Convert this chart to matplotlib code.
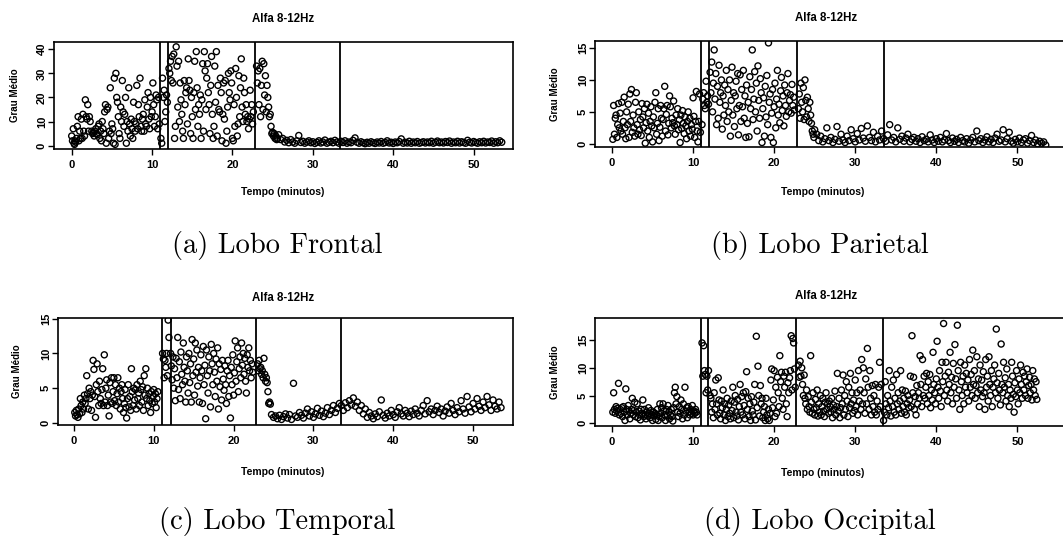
import matplotlib
matplotlib.use("Agg")
import matplotlib.pyplot as plt
import numpy as np

# ---------------- data ----------------
frontal_pts = [
 (0.0,4),(0.1,2),(0.2,7),(0.3,1),(0.35,0.5),(0.4,2),(0.5,1.5),(0.6,3),(0.7,8),(0.8,12),(0.9,2),(1.0,6),(1.1,3),(1.2,11),(1.3,3),
 (1.4,13),(1.5,6),(1.6,4),(1.7,19),(1.8,12),(1.9,11),(2.0,17),(2.1,6),(2.2,12),(2.3,10),(2.5,6),(2.6,5),(2.7,5.5),(2.8,4),(2.9,6),(3.0,7),(3.1,5),(3.2,4.5),
 (3.3,8),(3.4,9),(3.5,3),(3.6,6),(3.7,2),(3.8,10),(3.9,7),(4.0,5),(4.1,14),(4.2,17),(4.3,1),(4.4,15),(4.5,16),(4.6,3),(4.7,6),(4.8,24),(4.9,5),(5.0,9),(5.1,7),(5.2,1),(5.3,28),
 (5.4,0.5),(5.5,30),(5.6,20),(5.7,18),(5.8,12),(5.9,5),(6.0,3),(6.1,16),(6.2,10),(6.3,27),(6.4,14),(6.5,8),(6.6,13),(6.7,20),(6.8,1),(6.9,10),(7.0,6),(7.1,24),(7.2,9),(7.3,4),(7.4,11),(7.5,7),(7.6,3),(7.7,18),
 (7.8,10),(7.9,6),(8.0,9),(8.1,25),(8.2,7),(8.3,17),(8.4,12),(8.5,28),(8.6,8),(8.7,6),(8.8,11),(8.9,13),(9.0,6),(9.1,19),(9.2,9),(9.3,8),(9.4,16),(9.5,22),(9.6,11),(9.7,7),(9.8,20),(9.9,12),(10.0,14),(10.1,26),(10.2,17),(10.3,8),(10.4,12),(10.5,21),(10.6,19),(10.7,7),(10.8,20),(10.9,9),
 (11.1,3),(11.2,1),(11.3,28),(11.4,20),(11.5,23),(11.6,10),(11.7,14),(11.8,21),(11.9,18),
 (12.1,32),(12.2,30),(12.3,35),(12.4,27),(12.5,37),(12.6,26),(12.7,38),(12.8,3),(12.9,8),(13.0,41),(13.1,33),(13.2,16),(13.3,35),(13.4,10),(13.5,26),(13.6,19),(13.7,13),(13.8,6),(13.9,3),(14.0,27),
 (14.1,17),(14.2,22),(14.3,24),(14.4,9),(14.5,36),(14.6,27),(14.7,23),(14.8,5),(14.9,20),(15.0,12),(15.1,3),(15.2,22),(15.3,35),(15.4,15),(15.5,39),(15.6,24),(15.7,8),(15.8,17),(15.9,13),(16.0,21),
 (16.1,3),(16.2,19),(16.3,34),(16.4,6),(16.5,39),(16.6,31),(16.7,15),(16.8,28),(16.9,34),(17.0,22),(17.1,17),(17.2,5),(17.3,25),(17.4,37),(17.5,13),(17.6,3),(17.7,8),(17.8,33),(17.9,18),(18.0,39),
 (18.1,4),(18.2,25),(18.3,15),(18.4,14),(18.5,28),(18.6,22),(18.7,2),(18.8,13),(18.9,26),(19.0,11),(19.1,27),(19.2,1),(19.3,6),(19.4,16),(19.5,30),(19.6,22),(19.7,19),(19.8,31),(19.9,26),(20.0,3),
 (20.1,2),(20.2,17),(20.3,8),(20.4,32),(20.5,20),(20.6,4),(20.7,9),(20.8,29),(20.9,12),(21.0,24),(21.1,36),(21.2,16),(21.3,10),(21.4,28),(21.5,22),(21.6,13),(21.7,17),(21.8,10),(21.9,12),(22.0,7),
 (22.1,11),(22.2,23),(22.3,12),(22.4,17),(22.5,9),(22.6,14),
 (23.0,33),(23.1,26),(23.2,31),(23.3,17),(23.4,32),(23.5,12),(23.6,25),(23.7,35),(23.8,15),(23.9,34),(24.0,21),(24.1,29),(24.2,14),(24.3,25),(24.4,20),(24.5,16),(24.6,12),(24.7,13),(24.8,8),(24.9,5),
 (25.0,5.5),(25.1,4),(25.2,5),(25.3,3),(25.4,4),(25.5,2.5),(25.6,3),
 (25.75,4.5),(26.0,2.5),(26.25,3),(26.5,1.5),(26.75,2.2),(27.0,1.2),(27.25,2.5),(27.5,1.5),(27.75,1.0),(28.0,2.0),(28.25,4.2),(28.5,1.3),(28.75,1.8),(29.0,1.0),(29.25,1.5),(29.5,2.0),(29.75,1.2),
 (30.0,1.6),(30.25,0.9),(30.5,1.4),(30.75,2.0),(31.0,1.1),(31.25,1.5),(31.5,2.3),(31.75,1.0),(32.0,1.4),(32.25,1.8),(32.5,1.2),(32.75,2.2),(33.0,1.5),(33.25,1.0),(33.5,1.8),(33.75,1.3),
 (34.0,2.0),(34.25,1.0),(34.5,1.5),(34.75,1.2),(35.0,2.2),(35.25,3.2),(35.5,1.4),(35.75,1.0),(36.0,1.6),(36.25,1.2),(36.5,0.8),(36.75,1.4),(37.0,1.0),(37.25,1.6),(37.5,1.2),(37.75,0.9),
 (38.0,1.5),(38.25,1.1),(38.5,1.7),(38.75,1.0),(39.0,1.3),(39.25,2.0),(39.5,1.1),(39.75,1.4),(40.0,0.9),(40.25,1.5),(40.5,1.2),(40.75,1.7),(41.0,2.8),(41.25,1.0),(41.5,1.4),(41.75,1.1),
 (42.0,1.8),(42.25,1.0),(42.5,1.5),(42.75,1.2),(43.0,1.7),(43.25,1.0),(43.5,1.3),(43.75,1.6),(44.0,1.1),(44.25,1.5),(44.5,1.2),(44.75,1.8),(45.0,1.0),(45.25,1.4),(45.5,1.9),(45.75,1.2),
 (46.0,1.5),(46.25,1.1),(46.5,1.7),(46.75,1.3),(47.0,1.9),(47.25,1.0),(47.5,1.5),(47.75,1.2),(48.0,1.8),(48.25,1.1),(48.5,1.6),(48.75,1.3),(49.0,1.0),(49.25,2.2),(49.5,1.4),(49.75,1.1),
 (50.0,1.7),(50.25,1.3),(50.5,1.0),(50.75,1.6),(51.0,1.2),(51.25,1.8),(51.5,1.1),(51.75,1.5),(52.0,1.3),(52.25,1.9),(52.5,1.0),(52.75,1.6),(53.0,1.2),(53.25,2.0),(53.5,1.4),
]

parietal_pts = [
 (0.1,0.7),(0.2,6),(0.3,1.5),(0.4,4),(0.5,4.5),(0.6,1),(0.7,3),(0.8,6.3),(0.9,2.5),(1.0,4.8),(1.1,2),(1.2,6.5),(1.3,1.5),(1.4,3.5),(1.5,7.3),(1.6,2.5),(1.7,0.8),(1.8,5),(1.9,3),(2.0,6.2),
 (2.1,1),(2.2,7.8),(2.3,3.5),(2.4,8.5),(2.5,1.8),(2.6,4.5),(2.7,2.5),(2.8,1.2),(2.9,6.5),(3.0,8),(3.1,3),(3.2,1.5),(3.3,5),(3.4,2.2),(3.5,3.8),(3.6,1.3),(3.7,6.3),(3.8,4.2),(3.9,2.5),(4.0,5.5),
 (4.1,0.1),(4.2,3.3),(4.3,6.2),(4.4,2),(4.5,4.8),(4.6,1),(4.7,3.5),(4.8,5.8),(4.9,2.8),(5.0,0.3),(5.1,4.2),(5.2,2.5),(5.3,6.5),(5.4,8),(5.5,1.5),(5.6,3.2),(5.7,5.5),(5.8,0.5),(5.9,2.6),(6.0,6),
 (6.1,4),(6.2,1.2),(6.3,3.8),(6.4,5.5),(6.5,9),(6.6,2),(6.7,4.6),(6.8,6),(6.9,1.4),(7.0,3.2),(7.1,7.5),(7.2,5.8),(7.3,2.5),(7.4,4),(7.5,3.3),(7.6,6.7),(7.7,2.8),(7.8,1.5),(7.9,4.5),(8.0,3),
 (8.1,5.5),(8.2,2.2),(8.3,3.8),(8.4,0.2),(8.5,4.5),(8.6,2.4),(8.7,5.2),(8.8,3.2),(8.9,1.6),(9.0,4.2),(9.1,2.8),(9.2,0.8),(9.3,3.5),(9.4,5),(9.5,2),(9.6,4),(9.7,1.2),(9.8,3),(9.9,2.3),(10.0,7.2),
 (10.1,4.3),(10.2,1),(10.3,3.5),(10.4,8.2),(10.5,2),(10.6,0.3),(10.7,3.5),(10.8,7.8),(10.9,1.8),
 (11.1,3),(11.2,7),(11.3,8),(11.4,6),(11.5,5.5),(11.6,9.8),(11.7,6.5),(11.8,7.5),(11.9,6.2),
 (12.1,11.2),(12.2,8),(12.3,12.8),(12.4,5),(12.5,9.5),(12.6,14.7),(12.7,7),(12.8,11),(12.9,3),(13.0,9),(13.1,4),(13.2,12.3),(13.3,6.5),(13.4,8),(13.5,10),(13.6,2.3),(13.7,7.5),(13.8,4.5),(13.9,9.2),(14.0,6),
 (14.1,11.5),(14.2,3.5),(14.3,8.5),(14.4,5),(14.5,10),(14.6,1.2),(14.7,6.8),(14.8,12),(14.9,4.5),(15.0,8),(15.1,2.7),(15.2,7.5),(15.3,9.8),(15.4,5.5),(15.5,11),(15.6,1.4),(15.7,6),(15.8,10.8),(15.9,3.5),(16.0,8.5),
 (16.1,5.8),(16.2,11.5),(16.3,4),(16.4,7.5),(16.5,1),(16.6,9.2),(16.7,3.2),(16.8,6.5),(16.9,1.1),(17.0,10.5),(17.1,5.5),(17.2,8.5),(17.3,14.7),(17.4,3.8),(17.5,7),(17.6,11.3),(17.7,5),(17.8,9.5),(17.9,2),(18.0,12.2),
 (18.1,6.8),(18.2,4),(18.3,10.2),(18.4,8),(18.5,0.2),(18.6,5.5),(18.7,7.2),(18.8,1.2),(18.9,9),(19.0,4.2),(19.1,10.7),(19.2,3),(19.3,15.8),(19.4,6.5),(19.5,7.8),(19.6,1),(19.7,4.8),(19.8,8.5),(19.9,0.2),(20.0,5.8),
 (20.1,9.5),(20.2,2.5),(20.3,7),(20.4,11.5),(20.5,4.5),(20.6,6.2),(20.7,3.3),(20.8,8.3),(20.9,10.4),(21.0,5.2),(21.1,7.5),(21.2,2.8),(21.3,9.2),(21.4,6),(21.5,4.3),(21.6,8),(21.7,11),(21.8,5),(21.9,6.8),(22.0,7.7),
 (22.1,4.8),(22.2,9.3),(22.3,6),(22.4,7.3),(22.5,5.3),
 (23.0,5.5),(23.1,7.8),(23.2,4),(23.3,9.5),(23.4,6.5),(23.5,5),(23.6,8.8),(23.7,3.8),(23.8,10),(23.9,6.8),(24.0,4.2),(24.1,7.3),(24.2,5.5),(24.3,3.5),(24.4,6.5),(24.5,4.5),(24.6,3.2),(24.7,2),(24.8,1.5),(24.9,1),
 (25.0,2.2),(25.25,1.5),(25.5,0.5),(25.75,1.2),(26.0,0.3),(26.25,0.8),(26.5,2.5),(26.75,0.5),(27.0,1.0),(27.25,0.2),(27.5,0.7),(27.75,2.7),(28.0,0.4),(28.25,1.5),(28.5,0.6),(28.75,0.2),(29.0,1.2),(29.25,0.5),
 (29.5,2.2),(29.75,0.8),(30.0,0.3),(30.25,1.6),(30.5,0.6),(30.75,2.4),(31.0,0.9),(31.25,0.4),(31.5,2.8),(31.75,1.0),(32.0,0.5),(32.25,1.8),(32.5,0.3),(32.75,1.2),(33.0,0.6),(33.25,2.0),(33.5,0.8),(33.75,0.4),
 (34.0,1.4),(34.25,3.0),(34.5,0.6),(34.75,1.0),(35.0,0.3),(35.25,2.5),(35.5,0.7),(35.75,1.2),(36.0,0.4),(36.25,0.9),(36.5,1.5),(36.75,0.3),(37.0,0.7),(37.25,1.0),(37.5,0.4),(37.75,0.8),(38.0,0.2),(38.25,1.1),
 (38.5,0.5),(38.75,0.7),(39.0,0.3),(39.25,1.4),(39.5,0.6),(39.75,0.2),(40.0,0.8),(40.25,0.4),(40.5,1.0),(40.75,0.3),(41.0,0.6),(41.25,1.6),(41.5,0.5),(41.75,0.2),(42.0,0.9),(42.25,0.4),(42.5,0.7),(42.75,0.2),
 (43.0,1.0),(43.25,0.5),(43.5,0.3),(43.75,0.8),(44.0,0.1),(44.25,0.6),(44.5,1.0),(44.75,0.3),(45.0,2.0),(45.25,0.5),(45.5,0.8),(45.75,0.2),(46.0,0.6),(46.25,1.1),(46.5,0.3),(46.75,0.7),(47.0,0.2),(47.25,0.9),
 (47.5,1.5),(47.75,0.4),(48.0,0.6),(48.25,2.2),(48.5,0.3),(48.75,0.8),(49.0,1.8),(49.25,0.4),(49.5,0.1),(49.75,0.7),(50.0,0.3),(50.25,0.9),(50.5,0.2),(50.75,0.6),(51.0,0.8),(51.25,0.1),(51.5,0.5),(51.75,1.3),
 (52.0,0.2),(52.25,0.6),(52.5,0.0),(52.75,0.4),(53.0,0.1),(53.25,0.3),(53.5,-0.2),
]

temporal_pts = [
 (0.1,1.5),(0.2,1),(0.3,1.8),(0.4,1.2),(0.5,0.8),(0.6,2),(0.7,1.3),(0.8,3.5),(0.9,2.5),(1.0,1.5),(1.1,3),(1.2,2),(1.3,4),(1.4,2.8),(1.5,3.5),(1.6,6.8),(1.7,4.2),(1.8,2),(1.9,5),(2.0,3.5),
 (2.1,4.5),(2.2,1.8),(2.3,4),(2.4,9),(2.5,7.7),(2.6,3.8),(2.7,0.8),(2.8,5.5),(2.9,8.5),(3.0,4.5),(3.1,2.5),(3.2,6),(3.3,3.5),(3.4,2.8),(3.5,4.8),(3.6,7.8),(3.7,2.5),(3.8,9.8),(3.9,3),(4.0,5),
 (4.1,6.2),(4.2,2.5),(4.3,4),(4.4,1),(4.5,5.8),(4.6,3),(4.7,6.5),(4.8,2.8),(4.9,4.5),(5.0,6.5),(5.1,3.2),(5.2,5.5),(5.3,2.5),(5.4,4.2),(5.5,6.5),(5.6,3),(5.7,5),(5.8,2),(5.9,4.5),(6.0,5.5),
 (6.1,3.5),(6.2,1.5),(6.3,2.8),(6.4,4.8),(6.5,2.2),(6.6,0.7),(6.7,3.5),(6.8,5.5),(6.9,2.3),(7.0,3.8),(7.1,1.8),(7.2,7.8),(7.3,4.5),(7.4,2.5),(7.5,5),(7.6,3.3),(7.7,4.8),(7.8,2),(7.9,5.5),(8.0,3.5),
 (8.1,4.3),(8.2,2.5),(8.3,6),(8.4,4.8),(8.5,3),(8.6,5.2),(8.7,1.8),(8.8,6.8),(8.9,4),(9.0,7.8),(9.1,3.5),(9.2,5),(9.3,2.5),(9.4,4.2),(9.5,3.2),(9.6,1.5),(9.7,4.5),(9.8,2.8),(9.9,3.8),(10.0,4.8),
 (10.1,3),(10.2,4.2),(10.3,2.2),(10.4,3.5),(10.5,4.5),
 (11.1,10),(11.2,9.2),(11.3,6.5),(11.4,9),(11.5,8),(11.6,10),(11.7,6.8),(11.8,14.8),(11.9,12.3),
 (12.1,10),(12.2,8.2),(12.3,6.2),(12.4,9.5),(12.5,5),(12.6,7.8),(12.7,3.2),(12.8,9.3),(12.9,6.5),(13.0,12.3),(13.1,4.8),(13.2,8.8),(13.3,3.5),(13.4,10.2),(13.5,7),(13.6,5.5),(13.7,11.5),(13.8,8),(13.9,6),(14.0,3),
 (14.1,9.5),(14.2,7.5),(14.3,4.3),(14.4,10),(14.5,5.8),(14.6,8.5),(14.7,3),(14.8,12),(14.9,6.8),(15.0,9.2),(15.1,4),(15.2,11.5),(15.3,7.3),(15.4,10.5),(15.5,5.3),(15.6,8),(15.7,3),(15.8,6.5),(15.9,9.8),(16.0,7.5),
 (16.1,2.8),(16.2,11),(16.3,5.5),(16.4,8.3),(16.5,0.6),(16.6,10.5),(16.7,6.8),(16.8,4.3),(16.9,9.5),(17.0,7.5),(17.1,2.3),(17.2,11.3),(17.3,8.5),(17.4,5.5),(17.5,10),(17.6,7.3),(17.7,3.8),(17.8,9.2),(17.9,6),(18.0,10.8),
 (18.1,2),(18.2,8.5),(18.3,5.2),(18.4,7.7),(18.5,3.3),(18.6,9),(18.7,6.3),(18.8,4.7),(18.9,8.2),(19.0,5.5),(19.1,2.8),(19.2,7.5),(19.3,9),(19.4,3.8),(19.5,6.8),(19.6,0.7),(19.7,8),(19.8,5.5),(19.9,9.8),(20.0,4),
 (20.1,7.2),(20.2,11.8),(20.3,6),(20.4,8.8),(20.5,10.8),(20.6,4.5),(20.7,7.8),(20.8,9.5),(20.9,6.5),(21.0,11.5),(21.1,8.3),(21.2,10),(21.3,7),(21.4,9.3),(21.5,6),(21.6,4.3),(21.7,9.8),(21.8,8),(21.9,10.8),(22.0,7.5),
 (22.1,9),(22.2,6.5),(22.3,8.5),(22.4,7.3),
 (23.0,8.5),(23.1,7.5),(23.2,9),(23.3,7.8),(23.4,8),(23.5,7),(23.6,7.5),(23.7,6.5),(23.8,9.3),(23.9,7),(24.0,6),(24.1,6.5),(24.2,5.8),(24.3,4.5),(24.4,2.8),(24.5,3),(24.6,2.7),
 (24.75,1.2),(25.0,0.8),(25.25,1.0),(25.5,0.6),(25.75,1.1),(26.0,0.5),(26.25,0.9),(26.5,1.3),(26.75,0.7),(27.0,1.2),(27.25,0.5),(27.5,5.7),(27.75,1.0),(28.0,0.8),(28.25,1.5),(28.5,1.1),(28.75,0.7),
 (29.0,1.4),(29.25,2.0),(29.5,1.0),(29.75,1.6),(30.0,0.8),(30.25,1.3),(30.5,2.1),(30.75,1.1),(31.0,1.7),(31.25,0.9),(31.5,1.4),(31.75,2.2),(32.0,1.2),(32.25,1.8),(32.5,2.5),(32.75,1.5),(33.0,2.1),(33.25,2.8),
 (33.5,2.5),(33.75,1.8),(34.0,2.9),(34.25,2.2),(34.5,3.2),(34.75,2.6),(35.0,3.6),(35.25,2.4),(35.5,3.0),(35.75,1.8),(36.0,2.5),(36.25,1.3),(36.5,2.0),(36.75,0.8),(37.0,1.5),(37.25,1.0),(37.5,0.6),(37.75,1.3),
 (38.0,0.9),(38.25,1.6),(38.5,3.3),(38.75,1.1),(39.0,0.7),(39.25,1.4),(39.5,1.0),(39.75,1.8),(40.0,1.2),(40.25,0.8),(40.5,1.6),(40.75,2.2),(41.0,1.3),(41.25,1.0),(41.5,1.8),(41.75,1.4),(42.0,0.9),(42.25,1.7),
 (42.5,1.2),(42.75,2.0),(43.0,1.4),(43.25,1.0),(43.5,1.8),(43.75,2.5),(44.0,1.3),(44.25,3.2),(44.5,1.6),(44.75,2.0),(45.0,1.2),(45.25,1.8),(45.5,2.4),(45.75,1.5),(46.0,2.0),(46.25,1.0),(46.5,1.7),(46.75,2.3),
 (47.0,1.4),(47.25,2.8),(47.5,1.8),(47.75,1.2),(48.0,2.2),(48.25,1.6),(48.5,3.2),(48.75,2.0),(49.0,1.4),(49.25,3.8),(49.5,2.3),(49.75,1.6),(50.0,2.8),(50.25,2.0),(50.5,3.5),(50.75,2.4),(51.0,1.8),(51.25,3.0),
 (51.5,2.2),(51.75,3.8),(52.0,2.6),(52.25,1.8),(52.5,3.3),(52.75,2.4),(53.0,2.0),(53.25,3.0),(53.5,2.2),
]

occipital_pts = [
 (0.1,2),(0.2,5.5),(0.3,2.5),(0.4,1.8),(0.5,3),(0.6,2.2),(0.7,2.7),(0.8,7.2),(0.9,1.5),(1.0,2.5),(1.1,1.8),(1.2,2.8),(1.3,1.2),(1.4,3),(1.5,2),(1.6,0.5),(1.7,6.2),(1.8,2.5),(1.9,1.5),(2.0,3.2),
 (2.1,2.2),(2.2,0.8),(2.3,1.8),(2.4,2.5),(2.5,4.5),(2.6,1.5),(2.7,2.3),(2.8,3.8),(2.9,1.2),(3.0,2),(3.1,3.5),(3.2,1),(3.3,2.2),(3.4,1.5),(3.5,0.6),(3.6,2.5),(3.7,1.8),(3.8,4.2),(3.9,1.2),(4.0,2.5),
 (4.1,1.5),(4.2,0.8),(4.3,2),(4.4,1.3),(4.5,2.8),(4.6,1.8),(4.7,1),(4.8,2.3),(4.9,1.5),(5.0,0.5),(5.1,2),(5.2,1.3),(5.3,1.8),(5.4,0.7),(5.5,1.5),(5.6,2.5),(5.7,0.5),(5.8,1.2),(5.9,3.5),(6.0,1.8),
 (6.1,2.8),(6.2,1),(6.3,3.5),(6.4,2.2),(6.5,1.5),(6.6,0.5),(6.7,2.5),(6.8,1.3),(6.9,3.2),(7.0,2),(7.1,0.8),(7.2,1.5),(7.3,2.5),(7.4,1.2),(7.5,0.4),(7.6,2.8),(7.7,5.5),(7.8,6.5),(7.9,3.5),(8.0,4.8),
 (8.1,2),(8.2,1.2),(8.3,3),(8.4,1.8),(8.5,4.2),(8.6,2.5),(8.7,0.8),(8.8,3.5),(8.9,1.5),(9.0,6.5),(9.1,2.2),(9.2,2.8),(9.3,1),(9.4,3),(9.5,2),(9.6,1.5),(9.7,2.5),(9.8,1.8),(9.9,3.2),(10.0,1.5),
 (10.1,2.2),(10.2,1.8),(10.3,2.5),(10.4,2),(10.5,1.5),
 (11.1,14.5),(11.2,8.5),(11.3,14),(11.4,9.5),(11.5,8.8),(11.6,5.5),(11.7,8.5),(11.8,6),(11.9,9.5),
 (12.1,5),(12.2,4.5),(12.3,2),(12.4,3.5),(12.5,1),(12.6,5.5),(12.7,2.5),(12.8,7.8),(12.9,3.5),(13.0,1.5),(13.1,8.2),(13.2,4.2),(13.3,1.8),(13.4,0.8),(13.5,4),(13.6,2.8),(13.7,6),(13.8,1.5),(13.9,3.5),(14.0,0.5),
 (14.1,2.5),(14.2,4.5),(14.3,1.2),(14.4,3.3),(14.5,1.8),(14.6,0.8),(14.7,4),(14.8,2.3),(14.9,6.5),(15.0,1),(15.1,3.8),(15.2,5),(15.3,2),(15.4,1.3),(15.5,4.3),(15.6,0.6),(15.7,3),(15.8,7),(15.9,2),(16.0,4.8),
 (16.1,1.5),(16.2,5.5),(16.3,3.2),(16.4,0.8),(16.5,5.7),(16.6,9.3),(16.7,2.5),(16.8,4.5),(16.9,1.2),(17.0,3.5),(17.1,0.5),(17.2,4.8),(17.3,2.2),(17.4,1.5),(17.5,3.8),(17.6,7),(17.7,0.6),(17.8,15.7),(17.9,2.8),(18.0,10.3),
 (18.1,5),(18.2,1.3),(18.3,6.8),(18.4,3.5),(18.5,4.5),(18.6,1),(18.7,2),(18.8,3),(18.9,0.5),(19.0,4.5),(19.1,1.5),(19.2,0.8),(19.3,2.5),(19.4,0.5),(19.5,1.8),(19.6,7.8),(19.7,9.8),(19.8,2.8),(19.9,4.2),(20.0,9.5),
 (20.1,1.2),(20.2,6.5),(20.3,1.8),(20.4,8.3),(20.5,5.5),(20.6,3),(20.7,12.2),(20.8,7.5),(20.9,9.2),(21.0,4.5),(21.1,2.5),(21.2,8.5),(21.3,6.5),(21.4,9.2),(21.5,3.5),(21.6,1.2),(21.7,7.3),(21.8,5.5),(21.9,8.2),(22.0,9.5),
 (22.1,15.8),(22.2,6),(22.3,15.3),(22.4,14.5),(22.5,9.8),(22.6,6.5),
 (23.0,10.5),(23.1,8.3),(23.2,11.2),(23.3,8.5),(23.4,10),(23.5,7),(23.6,5),(23.7,8.7),(23.8,4.5),(23.9,3.5),(24.0,6),(24.1,2.5),(24.2,4.8),(24.3,3),(24.4,2),(24.5,12.2),(24.6,3.8),(24.7,1.8),(24.8,5.5),(24.9,2.5),
 (25.0,1.5),(25.1,4.3),(25.2,2.8),(25.3,6),(25.4,1.3),(25.5,3.5),(25.6,2),(25.7,5),(25.8,1.5),(25.9,3),(26.0,4.5),(26.1,2.2),(26.2,1.2),(26.3,3.8),(26.4,5.5),(26.5,2.5),(26.6,3.5),(26.7,1.8),(26.8,4),(26.9,3),
 (27.0,2),(27.1,4.5),(27.2,1),(27.3,3.3),(27.4,2.5),(27.5,5.8),(27.6,1.5),(27.7,3),(27.8,9),(27.9,2.2),(28.0,4.5),(28.1,1),(28.2,2.8),(28.3,6),(28.4,3.5),(28.5,8.7),(28.6,1.5),(28.7,5),(28.8,2.5),(28.9,7.5),
 (29.0,4),(29.1,1.2),(29.2,6.5),(29.3,2.8),(29.4,9),(29.5,3.5),(29.6,5.5),(29.7,1.8),(29.8,4.2),(29.9,2.3),(30.0,7.8),(30.1,3),(30.2,5.5),(30.3,1.5),(30.4,9.5),(30.5,4),(30.6,6),(30.7,2.5),(30.8,11.5),(30.9,3.5),
 (31.0,10),(31.1,5.5),(31.2,1.8),(31.3,8),(31.4,3.5),(31.5,13.5),(31.6,6.5),(31.7,2.5),(31.8,9.5),(31.9,4.5),(32.0,1.5),(32.1,6.8),(32.2,3),(32.3,5),(32.4,2),(32.5,7),(32.6,1.5),(32.7,4),(32.8,2.5),(32.9,6.5),
 (33.0,11),(33.1,3),(33.2,7),
 (33.5,0.5),(33.6,2),(33.7,7.5),(33.8,3.5),(33.9,1.5),(34.0,5),(34.1,2.8),(34.2,9.5),(34.3,4),(34.4,1.3),(34.5,6.5),(34.6,3),(34.7,7.8),(34.8,2),(34.9,4.5),(35.0,1.5),(35.1,8.8),(35.2,3.5),(35.3,5.5),(35.4,2.5),
 (35.5,4),(35.6,9.5),(35.7,1.8),(35.8,6),(35.9,3),(36.0,4.5),(36.1,2),(36.2,5.8),(36.3,1.5),(36.4,3.5),(36.5,5),(36.6,2.8),(36.7,4.2),(36.8,8.5),(36.9,3),(37.0,15.8),(37.1,5.5),(37.2,8.3),(37.3,2.5),(37.4,4.8),
 (37.5,1.5),(37.6,6.8),(37.7,3.5),(37.8,5.5),(37.9,4.5),(38.0,12.2),(38.1,7),(38.2,3),(38.3,11.5),(38.4,5),(38.5,8.5),(38.6,4.5),(38.7,6.5),(38.8,9),(38.9,3.5),(39.0,7.5),(39.1,5),(39.2,8.8),(39.3,2.8),(39.4,6),
 (39.5,4.2),(39.6,12.8),(39.7,7),(39.8,5.5),(39.9,3.5),(40.0,8),(40.1,14.8),(40.2,6.5),(40.3,4.5),(40.4,9.5),(40.5,5.8),(40.6,3),(40.7,11),(40.8,7.5),(40.9,18),(41.0,5),(41.1,8.5),(41.2,11),(41.3,6),(41.4,4),
 (41.5,9.2),(41.6,7),(41.7,12.8),(41.8,5.5),(41.9,8.3),(42.0,3.5),(42.1,10.8),(42.2,6.5),(42.3,14.2),(42.4,8),(42.5,4.5),(42.6,17.7),(42.7,9.5),(42.8,6),(42.9,2.5),(43.0,11),(43.1,7.5),(43.2,5),(43.3,8.5),(43.4,3.5),
 (43.5,10.5),(43.6,6.5),(43.7,9),(43.8,5.5),(43.9,7.8),(44.0,4),(44.1,11.5),(44.2,6.5),(44.3,8.8),(44.4,5),(44.5,13.2),(44.6,7),(44.7,9.5),(44.8,4.5),(44.9,6.8),(45.0,12),(45.1,5.5),(45.2,8),(45.3,3),(45.4,10.5),
 (45.5,6),(45.6,7.8),(45.7,4.8),(45.8,9.3),(45.9,5.5),(46.0,2.5),(46.1,11.5),(46.2,6.5),(46.3,8.5),(46.4,4),(46.5,12),(46.6,7),(46.7,5),(46.8,9.5),(46.9,3),(47.0,6.5),(47.1,8),(47.2,10.5),(47.3,5.5),(47.4,17),
 (47.5,7.3),(47.6,4.5),(47.7,9),(47.8,6),(47.9,3.3),(48.0,14.3),(48.1,7),(48.2,5.5),(48.3,11),(48.4,6.5),(48.5,8.2),(48.6,4),(48.7,9.8),(48.8,5),(48.9,7),(49.0,3),(49.1,6),(49.2,4.5),(49.3,11),(49.4,8.5),
 (49.5,5.2),(49.6,2),(49.7,7.3),(49.8,4.8),(49.9,9.5),(50.0,6),(50.1,3.5),(50.2,8),(50.3,5.5),(50.4,10.5),(50.5,7),(50.6,4.5),(50.7,9.2),(50.8,6),(50.9,8.5),(51.0,5),(51.1,7.5),(51.2,9.8),(51.3,4.5),(51.4,6.8),
 (51.5,8.3),(51.6,5.5),(51.7,7),(51.8,4.2),(51.9,9.5),(52.0,6),(52.1,8),(52.2,5),(52.3,7.5),(52.4,4.3),
]

frontal_lines = [11.0, 12.0, 22.8, 33.4]
parietal_lines = [11.0, 12.0, 22.8, 33.5]
temporal_lines = [11.0, 12.1, 22.8, 33.4]
occipital_lines = [11.0, 11.9, 22.7, 33.4]

title_text = "Alfa 8-12Hz"
xlabel_text = "Tempo (minutos)"
ylabel_text = "Grau Médio"
captions = ["(a) Lobo Frontal", "(b) Lobo Parietal", "(c) Lobo Temporal", "(d) Lobo Occipital"]
xticks = [0, 10, 20, 30, 40, 50]
frontal_yticks = [0, 10, 20, 30, 40]
other_yticks = [0, 5, 10, 15]

# ---------------- layout ----------------
W, H = 1063, 536
fig = plt.figure(figsize=(W / 100, H / 100), dpi=100)
fig.patch.set_facecolor("white")

SANS = ["Liberation Sans", "DejaVu Sans"]

def fx(px):
    return px / W

def fy(py):
    return 1 - py / H

panels = [
    dict(pts=frontal_pts, lines=frontal_lines, box=(54, 42, 513, 149), xlim=(-2.2, 54.9), ylim=(-1.4, 43.0),
         yticks=frontal_yticks, title=(283, 19), xlab=(283, 192), ylab=(15, 95), cap=(277, 253), capt=captions[0]),
    dict(pts=parietal_pts, lines=parietal_lines, box=(595, 41, 1066, 147), xlim=(-2.1, 56.0), ylim=(-0.5, 16.1),
         yticks=other_yticks, title=(826, 18), xlab=(823, 192), ylab=(555, 94), cap=(820, 253), capt=captions[1]),
    dict(pts=temporal_pts, lines=temporal_lines, box=(58, 318, 513, 425), xlim=(-2.0, 55.0), ylim=(-0.3, 15.1),
         yticks=other_yticks, title=(283, 298), xlab=(283, 472), ylab=(17, 371), cap=(277, 529), capt=captions[2]),
    dict(pts=occipital_pts, lines=occipital_lines, box=(595, 318, 1066, 426), xlim=(-2.1, 56.0), ylim=(-0.5, 19.0),
         yticks=other_yticks, title=(826, 296), xlab=(823, 473), ylab=(555, 372), cap=(820, 529), capt=captions[3]),
]

for p in panels:
    l, t, r, b = p["box"]
    ax = fig.add_axes([fx(l), fy(b), (r - l) / W, (b - t) / H])
    arr = np.array(p["pts"], dtype=float)
    ax.scatter(arr[:, 0], arr[:, 1], s=19, facecolors="none", edgecolors="black", linewidths=1.0, zorder=3)
    for v in p["lines"]:
        ax.axvline(v, color="black", lw=1.3, zorder=2)
    ax.set_xlim(*p["xlim"])
    ax.set_ylim(*p["ylim"])
    ax.set_xticks(xticks)
    ax.set_yticks(p["yticks"])
    ax.tick_params(direction="out", length=4, width=1.0, labelsize=8, color="black")
    ax.tick_params(axis="x", pad=4.0)
    ax.tick_params(axis="y", pad=1.2, labelrotation=90)
    for lab in ax.get_xticklabels() + ax.get_yticklabels():
        lab.set_fontweight("bold")
        lab.set_family(SANS)
    for lab in ax.get_yticklabels():
        lab.set_va("center")
    for sp in ax.spines.values():
        sp.set_linewidth(1.2)
    fig.text(fx(p["title"][0]), fy(p["title"][1]), title_text, ha="center", va="center",
             fontsize=8.3, fontweight="bold", family=SANS)
    fig.text(fx(p["xlab"][0]), fy(p["xlab"][1]), xlabel_text, ha="center", va="center",
             fontsize=7.5, fontweight="bold", family=SANS)
    fig.text(fx(p["ylab"][0]), fy(p["ylab"][1]), ylabel_text, ha="center", va="center",
             rotation=90, fontsize=7, fontweight="bold", family=SANS)
    fig.text(fx(p["cap"][0]), fy(p["cap"][1]), p["capt"], ha="center", va="baseline",
             fontsize=20.5, family=["cmr10", "DejaVu Serif"])

fig.savefig("out.png", dpi=100, facecolor="white")
